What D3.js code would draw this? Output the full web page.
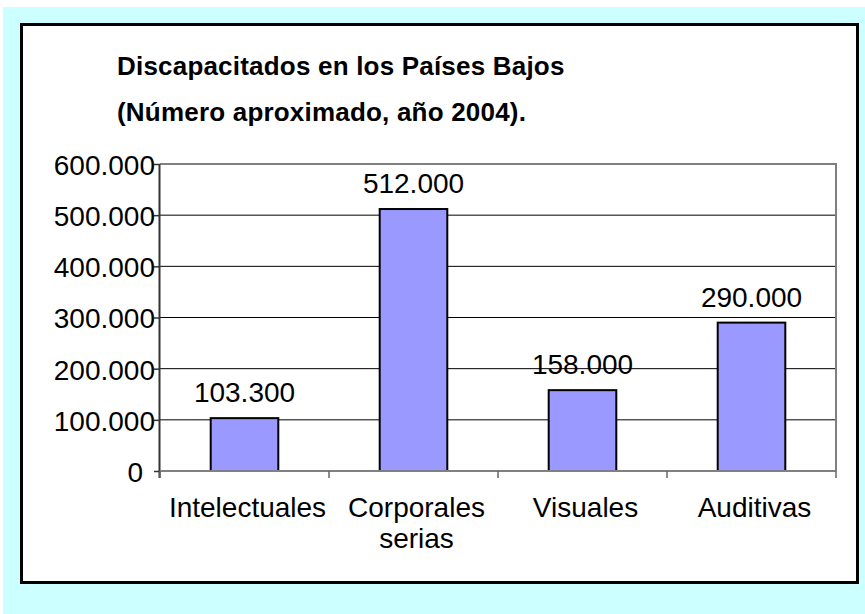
<!DOCTYPE html>
<html>
<head>
<meta charset="utf-8">
<script src="https://cdn.jsdelivr.net/npm/d3@7/dist/d3.min.js"></script>
<style>
  html, body { margin: 0; padding: 0; background: #ffffff; }
  svg { display: block; }
  text { font-family: "Liberation Sans", Arial, sans-serif; fill: #000; }
</style>
</head>
<body>
<svg id="chart" width="865" height="614"></svg>
<script>
const categories = [["Intelectuales"], ["Corporales", "serias"], ["Visuales"], ["Auditivas"]];
const values = [103300, 512000, 158000, 290000];
const yTicks = [0, 100000, 200000, 300000, 400000, 500000, 600000];
const titleLines = ["Discapacitados en los Países Bajos", "(Número aproximado, año 2004)."];

const fmt = v => d3.format(",")(v).replace(/,/g, ".");

const svg = d3.select("#chart");
// backgrounds
svg.append("rect").attr("x", 3).attr("y", 7).attr("width", 862).attr("height", 607).attr("fill", "#CCFFFF");
svg.append("rect").attr("x", 21.5).attr("y", 24.5).attr("width", 836).attr("height", 558)
  .attr("fill", "#ffffff").attr("stroke", "#000").attr("stroke-width", 3);

const m = { left: 160, right: 836, top: 164, bottom: 471 };
const keys = categories.map((c, i) => i);
const x = d3.scaleBand().domain(keys).range([m.left, m.right]).paddingInner(0.6).paddingOuter(0.3);
const xb = d3.scaleBand().domain(keys).range([m.left, m.right]);
const y = d3.scaleLinear().domain([0, 600000]).range([m.bottom, m.top]);

// gridlines
svg.append("g").selectAll("line").data(yTicks.filter(t => t > 0 && t < 600000)).join("line")
  .attr("x1", m.left).attr("x2", m.right)
  .attr("y1", d => y(d)).attr("y2", d => y(d))
  .attr("stroke", "#000").attr("stroke-width", 1);

// plot border top & right
svg.append("path")
  .attr("d", `M${m.left},${m.top}H${m.right}V${m.bottom}`)
  .attr("fill", "none").attr("stroke", "#808080").attr("stroke-width", 2);

// bars
svg.append("g").selectAll("rect").data(values).join("rect")
  .attr("x", (d, i) => x(i)).attr("width", x.bandwidth())
  .attr("y", d => y(d)).attr("height", d => y(0) - y(d))
  .attr("fill", "#9999FF").attr("stroke", "#000").attr("stroke-width", 2);

// value labels
svg.append("g").selectAll("text").data(values).join("text")
  .attr("x", (d, i) => x(i) + x.bandwidth() / 2)
  .attr("y", d => y(d) - 16)
  .attr("text-anchor", "middle")
  .style("font-size", "28px")
  .text(d => fmt(d));

// y axis
const yAxis = svg.append("g").attr("transform", `translate(${m.left},0)`)
  .call(d3.axisLeft(y).tickValues(yTicks).tickSize(6).tickPadding(-1).tickFormat(d => fmt(d)));
yAxis.select(".domain").attr("stroke", "#333").attr("stroke-width", 2)
  .attr("d", `M-0.5,${m.top}V${m.bottom + 7}`);
yAxis.selectAll(".tick line").attr("stroke", "#333").attr("stroke-width", 1.5);
yAxis.selectAll(".tick text").attr("fill", "#000")
  .style("font-size", "28px")
  .style("font-family", "'Liberation Sans', Arial, sans-serif")
  .attr("dx", d => d === 0 ? -12 : 0)
  .attr("dy", "0.37em");

// x axis
const xAxis = svg.append("g").attr("transform", `translate(0,${m.bottom})`);
xAxis.append("line").attr("x1", m.left).attr("x2", m.right).attr("y1", 0).attr("y2", 0)
  .attr("stroke", "#808080").attr("stroke-width", 2);
xAxis.selectAll("line.tk").data(keys.concat([keys.length])).join("line").attr("class", "tk")
  .attr("x1", d => d < keys.length ? xb(d) : m.right)
  .attr("x2", d => d < keys.length ? xb(d) : m.right)
  .attr("y1", 0).attr("y2", 7)
  .attr("stroke", "#666").attr("stroke-width", 1.5);
const cat = xAxis.selectAll("text").data(categories).join("text")
  .attr("text-anchor", "middle")
  .style("font-size", "28px")
  .attr("transform", (d, i) => `translate(${xb(i) + xb.bandwidth() / 2 + 3},46)`);
cat.selectAll("tspan").data(d => d).join("tspan")
  .attr("x", 0).attr("dy", (d, i) => i === 0 ? 0 : 31).text(d => d);

// title
svg.append("g").selectAll("text").data(titleLines).join("text")
  .attr("x", 117).attr("y", (d, i) => 75 + i * 46)
  .style("font-size", "26px").style("font-weight", "bold").style("letter-spacing", "0.2px")
  .text(d => d);
</script>
</body>
</html>
